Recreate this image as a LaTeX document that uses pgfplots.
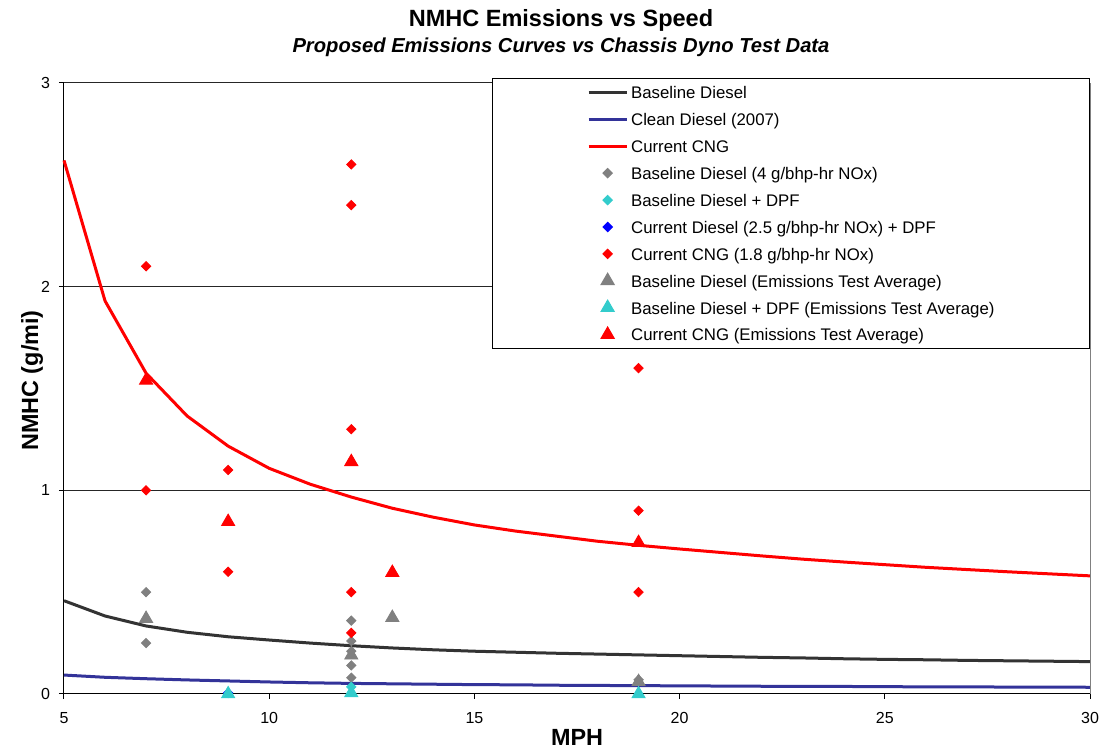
\documentclass[border=0pt]{standalone}
\usepackage{pgfplots}
\pgfplotsset{compat=1.18}
\usepackage{fontspec}
\setmainfont{Liberation Sans}

\definecolor{basediesel}{HTML}{333333}
\definecolor{cleandiesel}{HTML}{333399}
\definecolor{cng}{HTML}{FF0000}
\definecolor{graymk}{HTML}{808080}
\definecolor{cyanmk}{HTML}{33CCCC}
\definecolor{bluemk}{HTML}{0000FF}

% Proposed emissions curves (g/mi vs MPH)
\pgfplotstableread{
x    base   clean  cng
5    0.458  0.093  2.620
6    0.383  0.082  1.930
7    0.334  0.075  1.575
8    0.303  0.069  1.365
9    0.281  0.064  1.217
10   0.265  0.059  1.108
11   0.250  0.055  1.030
12   0.237  0.052  0.967
13   0.226  0.050  0.912
14   0.217  0.048  0.868
15   0.210  0.046  0.830
16   0.205  0.045  0.800
17   0.200  0.043  0.775
18   0.196  0.042  0.750
19   0.192  0.041  0.730
20   0.188  0.040  0.712
21   0.184  0.039  0.695
22   0.180  0.038  0.678
23   0.177  0.038  0.662
24   0.173  0.037  0.648
25   0.170  0.036  0.635
26   0.168  0.035  0.622
27   0.165  0.035  0.611
28   0.163  0.034  0.600
29   0.161  0.034  0.590
30   0.159  0.033  0.580
}\curves

\begin{document}
\begin{tikzpicture}
\begin{axis}[
  scale only axis,
  width=513pt, height=305.5pt,
  xmin=5, xmax=30, ymin=0, ymax=3,
  xtick={5,10,15,20,25,30},
  ytick={0,1,2,3},
  axis x line*=bottom, axis y line*=left,
  axis line style={black, line width=0.5pt},
  tick align=outside,
  major tick length=2.5pt,
  tick style={black, line width=0.5pt},
  ymajorgrids,
  grid style={black!85, line width=0.5pt},
  /pgf/number format/assume math mode=true,
  tick label style={font=\fontsize{8}{9.6}\selectfont},
  xticklabel style={yshift=-3pt},
  yticklabel style={xshift=-1pt},
  legend cell align=left,
  legend image code/.code={%
    \draw[mark repeat=2,mark phase=2,#1] plot coordinates {(0pt,0pt) (9.5pt,0pt) (19pt,0pt)};},
  legend style={
    at={(rel axis cs:1,1.00818)}, anchor=north east,
    draw=black, line width=0.5pt, fill=white,
    inner xsep=47.5pt, inner ysep=1.2pt,
    font=\fontsize{8.4}{10}\selectfont,
    nodes={inner sep=0pt, text height=9pt, text depth=2.6pt},
    row sep=1.85pt, column sep=1.5pt,
  },
  diamondmk/.style={only marks, mark=square*, mark size=1.65pt,
    mark options={rotate=45, draw=#1, fill=#1}},
  trianglemk/.style={only marks, mark=triangle*, mark size=3.8pt,
    mark options={draw=#1, fill=#1}},
  clip=false,
]
% fitted curves
\addplot[basediesel, line width=1.5pt, no marks] table[x=x, y=base] {\curves};
\addlegendentry{Baseline Diesel}
\addplot[cleandiesel, line width=1.5pt, no marks] table[x=x, y=clean] {\curves};
\addlegendentry{Clean Diesel (2007)}
\addplot[cng, line width=1.5pt, no marks] table[x=x, y=cng] {\curves};
\addlegendentry{Current CNG}

% individual chassis dyno tests
\addplot[diamondmk=graymk]
  coordinates {(7,0.50) (7,0.25) (12,0.36) (12,0.26) (12,0.21) (12,0.14) (12,0.08) (19,0.07)};
\addlegendentry{Baseline Diesel (4 g/bhp-hr NOx)}
\addplot[diamondmk=cyanmk]
  coordinates {(12,0.035)};
\addlegendentry{Baseline Diesel + DPF}
\addplot[diamondmk=bluemk]
  coordinates {(9,0.005)};
\addlegendentry{Current Diesel (2.5 g/bhp-hr NOx) + DPF}
\addplot[diamondmk=cng]
  coordinates {(7,2.10) (7,1.00) (9,1.10) (9,0.60) (12,2.60) (12,2.40) (12,1.30) (12,0.50) (12,0.30) (19,1.60) (19,0.90) (19,0.50)};
\addlegendentry{Current CNG (1.8 g/bhp-hr NOx)}

% emissions test averages
\addplot[trianglemk=graymk]
  coordinates {(7,0.37) (12,0.19) (13,0.375) (19,0.06)};
\addlegendentry{Baseline Diesel (Emissions Test Average)}
\addplot[trianglemk=cyanmk]
  coordinates {(9,0.0) (12,0.005) (19,0.0)};
\addlegendentry{Baseline Diesel + DPF (Emissions Test Average)}
\addplot[trianglemk=cng]
  coordinates {(7,1.54) (9,0.846) (12,1.14) (13,0.596) (19,0.743)};
\addlegendentry{Current CNG (Emissions Test Average)}

% plot area border on the right
\draw[graymk, line width=0.5pt] (rel axis cs:1,0) -- (rel axis cs:1,1);

% titles and axis labels
\node[anchor=base, font=\fontsize{11.75}{14}\selectfont\bfseries]
  at (rel axis cs:0.4844,1.0917) {NMHC Emissions vs Speed};
\node[anchor=base, font=\fontsize{10.1}{12}\selectfont\bfseries\itshape]
  at (rel axis cs:0.4844,1.0507) {Proposed Emissions Curves vs Chassis Dyno Test Data};
\node[anchor=base, font=\fontsize{11.7}{14}\selectfont\bfseries]
  at (rel axis cs:0.5,-0.0851) {MPH};
\node[anchor=base, rotate=90, font=\fontsize{11.7}{14}\selectfont\bfseries]
  at (rel axis cs:-0.0253,0.513) {NMHC (g/mi)};

\coordinate (bbsw) at (rel axis cs:-0.06238,-0.09329);
\coordinate (bbne) at (rel axis cs:1.00975,1.13584);
\end{axis}
\pgfresetboundingbox
\path (bbsw) rectangle (bbne);
\end{tikzpicture}
\end{document}
